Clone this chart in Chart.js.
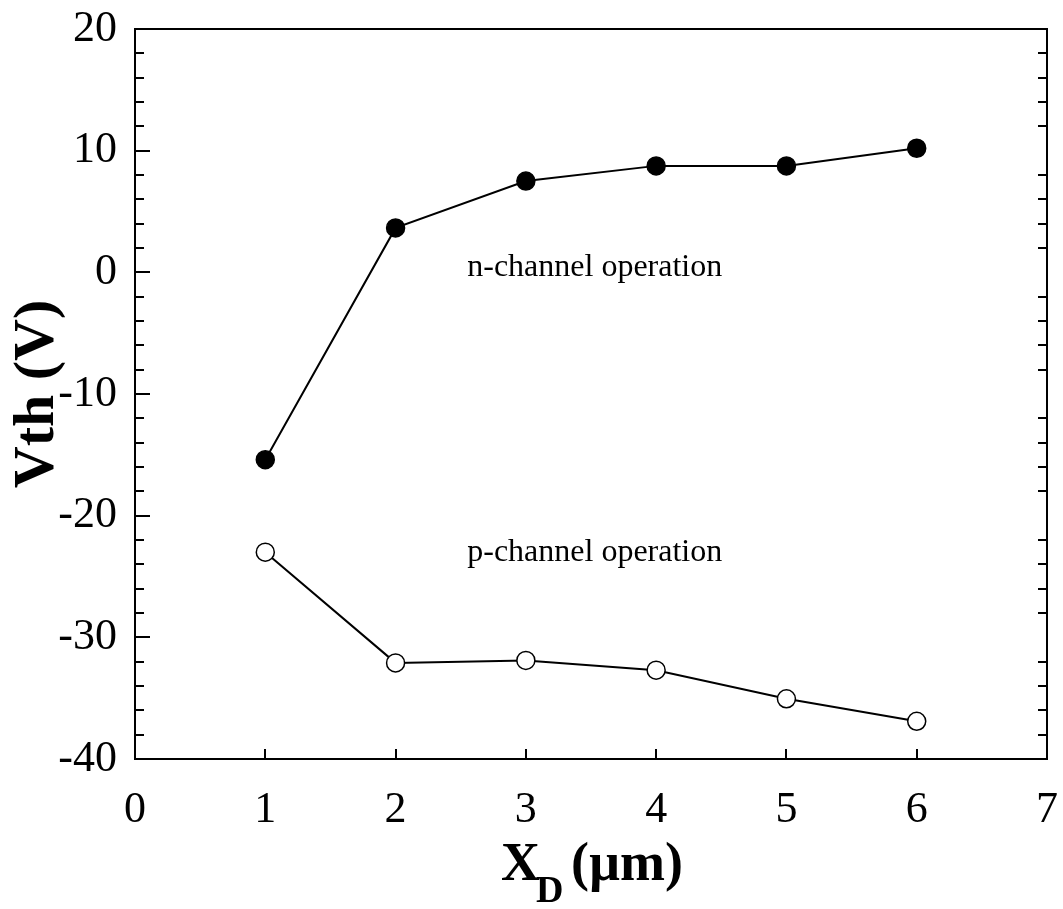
<!DOCTYPE html>
<html>
<head>
<meta charset="utf-8">
<script src="https://cdn.jsdelivr.net/npm/chart.js@4.4.1/dist/chart.umd.min.js"></script>
<style>
  html, body { margin: 0; padding: 0; background: #fff; }
  #wrap { width: 1063px; height: 909px; }
</style>
</head>
<body>
<div id="wrap"><canvas id="chart" width="1063" height="909"></canvas></div>
<script>
// X_D (um)
const xValues = [1, 2, 3, 4, 5, 6];
// Vth (V)
const nChannel = [-15.4, 3.65, 7.5, 8.75, 8.75, 10.2];
const pChannel = [-23.0, -32.1, -31.9, -32.7, -35.05, -36.9];

const xTicks = [0, 1, 2, 3, 4, 5, 6, 7];
const yTicks = [-40, -30, -20, -10, 0, 10, 20];

const notes = ["n-channel operation", "p-channel operation"];
const noteX = [2.55, 2.55];
const noteY = [0.35, -23.05];

const serif = "'Liberation Serif', 'Times New Roman', serif";

function toPoints(ys) {
    return xValues.map((x, i) => ({ x: x, y: ys[i] }));
}

const framePlugin = {
    id: "frame",
    afterDraw(chart) {
        const ctx = chart.ctx;
        const a = chart.chartArea;
        const xs = chart.scales.x;
        const ys = chart.scales.y;
        ctx.save();
        ctx.strokeStyle = "#000";
        ctx.lineWidth = 2;
        ctx.strokeRect(a.left, a.top, a.right - a.left, a.bottom - a.top);

        ctx.beginPath();
        // y ticks: major on left, minor every 2 on both sides
        for (let v = -40; v <= 20; v += 2) {
            const py = Math.round(ys.getPixelForValue(v));
            const major = v % 10 === 0;
            if (major) {
                ctx.moveTo(a.left, py);
                ctx.lineTo(a.left + 15, py);
            } else {
                ctx.moveTo(a.left, py);
                ctx.lineTo(a.left + 9, py);
                ctx.moveTo(a.right, py);
                ctx.lineTo(a.right - 9, py);
            }
        }
        // x ticks, bottom only
        for (let v = 1; v <= 6; v++) {
            const px = Math.round(xs.getPixelForValue(v));
            ctx.moveTo(px, a.bottom);
            ctx.lineTo(px, a.bottom - 10);
        }
        ctx.stroke();

        // annotations
        ctx.fillStyle = "#000";
        ctx.font = "32px " + serif;
        ctx.textAlign = "left";
        ctx.textBaseline = "middle";
        notes.forEach((t, i) => {
            ctx.fillText(t, xs.getPixelForValue(noteX[i]), ys.getPixelForValue(noteY[i]));
        });

        // y title
        ctx.save();
        ctx.translate(38, 394);
        ctx.rotate(-Math.PI / 2);
        ctx.font = "bold 58px " + serif;
        ctx.textAlign = "center";
        ctx.textBaseline = "middle";
        ctx.fillText("Vth (V)", 0, 0);
        ctx.restore();

        // x title with subscript
        const bigFont = "bold 54px " + serif;
        const subFont = "bold 38px " + serif;
        ctx.font = bigFont;
        const wX = ctx.measureText("X").width;
        const wRest = ctx.measureText(" (\u00b5m)").width;
        ctx.font = subFont;
        const wD = ctx.measureText("D").width;
        const total = wX + wD + wRest;
        let sx = (a.left + a.right) / 2 - total / 2 + 6;
        const base = 880;
        ctx.textAlign = "left";
        ctx.textBaseline = "alphabetic";
        ctx.font = bigFont;
        ctx.fillText("X", sx, base);
        sx += wX - 4;
        ctx.font = subFont;
        ctx.fillText("D", sx, base + 22);
        sx += wD - 6;
        ctx.font = bigFont;
        ctx.fillText(" (\u00b5m)", sx, base);
        ctx.restore();
    }
};

new Chart(document.getElementById("chart").getContext("2d"), {
    type: "line",
    data: {
        datasets: [{
            label: "n-channel",
            data: toPoints(nChannel),
            borderColor: "#000",
            borderWidth: 2,
            pointRadius: 9,
            pointBackgroundColor: "#000",
            pointBorderColor: "#000",
            pointBorderWidth: 1.5,
            tension: 0
        }, {
            label: "p-channel",
            data: toPoints(pChannel),
            borderColor: "#000",
            borderWidth: 2,
            pointRadius: 9,
            pointBackgroundColor: "#fff",
            pointBorderColor: "#000",
            pointBorderWidth: 1.5,
            tension: 0
        }]
    },
    options: {
        responsive: false,
        animation: false,
        layout: { padding: { top: 29, right: 16, left: 0, bottom: 0 } },
        plugins: {
            legend: { display: false },
            tooltip: { enabled: false }
        },
        scales: {
            x: {
                type: "linear",
                min: 0,
                max: 7,
                afterBuildTicks: s => { s.ticks = xTicks.map(v => ({ value: v })); },
                afterFit: s => {
                    s.height = 150;
                    s.paddingLeft = 0;
                    s.paddingRight = 0;
                },
                grid: { display: false, drawTicks: false },
                border: { display: false },
                ticks: {
                    color: "#000",
                    padding: 25,
                    font: { family: serif, size: 44 }
                }
            },
            y: {
                type: "linear",
                min: -40,
                max: 20,
                afterBuildTicks: s => { s.ticks = yTicks.map(v => ({ value: v })); },
                afterFit: s => {
                    s.width = 135;
                    s.paddingTop = 0;
                    s.paddingBottom = 0;
                },
                grid: { display: false, drawTicks: false },
                border: { display: false },
                ticks: {
                    color: "#000",
                    padding: 18,
                    font: { family: serif, size: 44 }
                }
            }
        }
    },
    plugins: [framePlugin]
});
</script>
</body>
</html>
